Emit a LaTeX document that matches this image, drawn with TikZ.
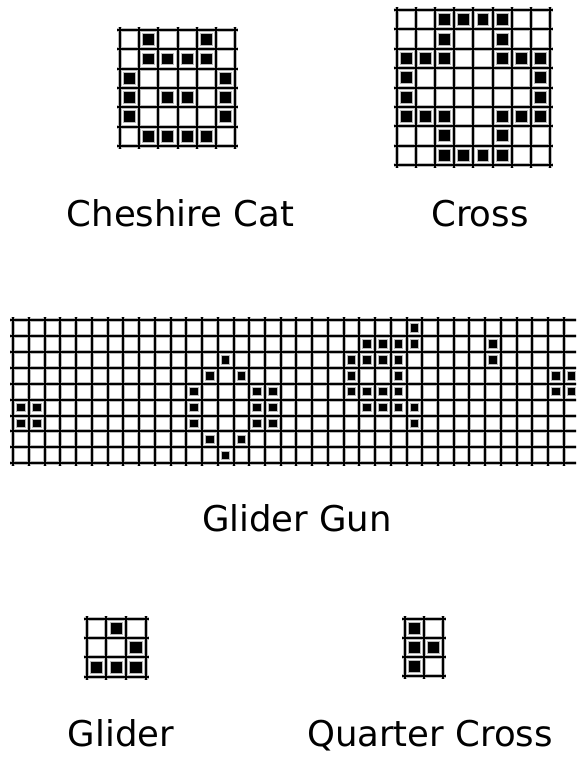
\documentclass[tikz,border=0pt]{standalone}
\usepackage{fontspec}
\setmainfont{DejaVu Sans}
\tikzset{
  gridhalo/.style={draw=gray!55, line width=4pt},
  gridline/.style={draw=black, line width=2pt},
  livecell/.style={draw=gray!55, line width=1pt, fill=black},
  label/.style={font=\fontsize{35.5}{40}\selectfont, anchor=base, inner sep=0pt}
}
% #1 x0, #2 y0, #3 cell width, #4 cell height, #5 cols, #6 rows, #7 size factor, #8 cells
\newcommand\lifegrid[8]{%
  \begin{scope}[shift={(#1,#2)}]
    \foreach \i in {0,...,#5} {\draw[gridhalo] ({\i*#3},-3) -- ({\i*#3},{#6*#4+3});}
    \foreach \j in {0,...,#6} {\draw[gridhalo] (-3,{\j*#4}) -- ({#5*#3+3},{\j*#4});}
    \foreach \i in {0,...,#5} {\draw[gridline] ({\i*#3},-3) -- ({\i*#3},{#6*#4+3});}
    \foreach \j in {0,...,#6} {\draw[gridline] (-3,{\j*#4}) -- ({#5*#3+3},{\j*#4});}
    \foreach \c/\r in {#8} {
      \draw[livecell] ({(\c+0.5-#7)*#3},{(\r+0.5-#7)*#4}) rectangle ({(\c+0.5+#7)*#3},{(\r+0.5+#7)*#4});
    }
  \end{scope}}
\begin{document}
\begin{tikzpicture}[x=1pt,y=-1pt]
\useasboundingbox (0,0) rectangle (576,757);
\clip (0,0) rectangle (576,757);
\fill[white] (0,0) rectangle (576,757);
% Cheshire Cat
\lifegrid{120}{30}{19.17}{19.33}{6}{6}{0.31}{1/0,4/0,1/1,2/1,3/1,4/1,0/2,5/2,0/3,2/3,3/3,5/3,0/4,5/4,1/5,2/5,3/5,4/5}
% Cross
\lifegrid{396.7}{10}{19.17}{19.38}{8}{8}{0.31}{2/0,3/0,4/0,5/0,2/1,5/1,0/2,1/2,2/2,5/2,6/2,7/2,0/3,7/3,0/4,7/4,0/5,1/5,2/5,5/5,6/5,7/5,2/6,5/6,2/7,3/7,4/7,5/7}
% Glider Gun
\lifegrid{13.3}{320}{15.73}{15.92}{36}{9}{0.27}{0/5,1/5,0/6,1/6,13/2,12/3,14/3,11/4,15/4,16/4,11/5,15/5,16/5,11/6,15/6,16/6,12/7,14/7,13/8,25/0,22/1,23/1,24/1,25/1,21/2,22/2,23/2,24/2,21/3,24/3,21/4,22/4,23/4,24/4,22/5,23/5,24/5,25/5,25/6,30/1,30/2,34/3,35/3,34/4,35/4}
% Glider
\lifegrid{86.7}{619}{19.77}{19.23}{3}{3}{0.31}{1/0,2/1,0/2,1/2,2/2}
% Quarter Cross
\lifegrid{405}{619}{18.85}{19}{2}{3}{0.31}{0/0,0/1,1/1,0/2}
% labels
\node[label] (cheshire) at (180.5,226.7) {Cheshire Cat};
\node[label] (cross) at (480,226.7) {Cross};
\node[label] (gun) at (297,531.7) {Glider Gun};
\node[label] (glider) at (121,746) {Glider};
\node[label] (quarter) at (430,746) {Quarter Cross};
\end{tikzpicture}
\end{document}
